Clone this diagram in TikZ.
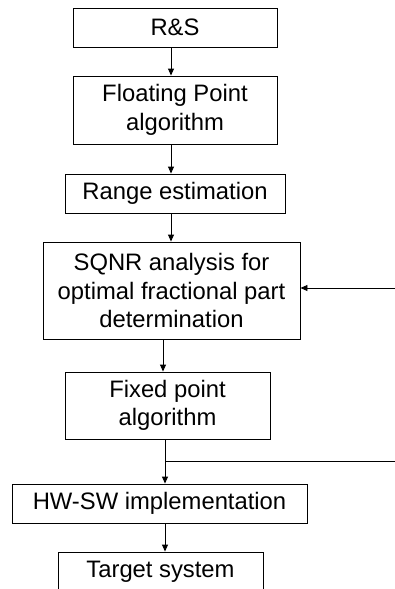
\documentclass[tikz,border=0pt]{standalone}
\usepackage{fontspec}
\setmainfont{Liberation Sans}
\usetikzlibrary{arrows.meta,calc}
\tikzset{
    box/.style={draw, line width=0.9pt, inner sep=0pt, align=center,
                font=\fontsize{23.8}{28.5}\selectfont},
    flow/.style={-{Triangle[length=7pt,width=6pt]}, line width=0.9pt},
    link/.style={line width=0.9pt},
}

\begin{document}
\begin{tikzpicture}[x=1pt, y=-1pt]
    \clip (0,0) rectangle (395,589);
    \node[box, minimum width=204pt, minimum height=39pt] (rs) at (175, 27.5) {R\&S};
    \node[box, minimum width=204pt, minimum height=68pt] (fp) at (175, 110) {Floating Point\\algorithm};
    \node[box, minimum width=220pt, minimum height=39pt] (range) at (175, 193.5) {Range estimation};
    \node[box, minimum width=257pt, minimum height=97pt] (sqnr) at (171.5, 290.5) {SQNR analysis for\\optimal fractional part\\determination};
    \node[box, minimum width=205pt, minimum height=67pt] (fixed) at (167.5, 405.5) {Fixed point\\algorithm};
    \node[box, minimum width=295pt, minimum height=39pt] (hwsw) at (159.5, 503.5) {HW-SW implementation};
    \node[box, minimum width=205pt, minimum height=39pt] (target) at (160.5, 571.5) {Target system};

    % feedback ends leave the picture on the right
    \coordinate (fbin) at (395, 288);
    \coordinate (fbout) at (395, 461);

    \draw[flow] ([xshift=-4pt]rs.south) -- ([xshift=-4pt]rs.south |- fp.north);
    \draw[flow] ([xshift=-4pt]fp.south) -- ([xshift=-4pt]fp.south |- range.north);
    \draw[flow] ([xshift=-4pt]range.south) -- ([xshift=-4pt]range.south |- sqnr.north);
    \draw[flow] ([xshift=-8.5pt]sqnr.south) -- ([xshift=-8.5pt]sqnr.south |- fixed.north);
    \draw[flow] ([xshift=-2.5pt]fixed.south) -- ([xshift=-2.5pt]fixed.south |- hwsw.north);
    \draw[flow] ([xshift=5.5pt]hwsw.south) -- ([xshift=5.5pt]hwsw.south |- target.north);
    \draw[flow] (fbin) -- (fbin -| sqnr.east);
    \draw[link] (fbout) -- ($(fbout -| fixed.south) + (-2.5,0)$);
\end{tikzpicture}
\end{document}
